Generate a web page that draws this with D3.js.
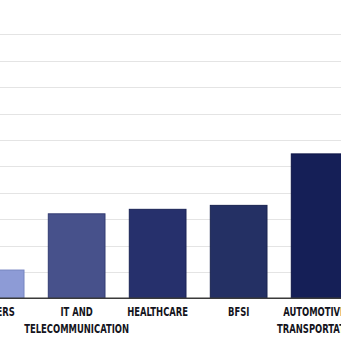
<!DOCTYPE html>
<html>
<head>
<meta charset="utf-8">
<script src="https://cdn.jsdelivr.net/npm/d3@7"></script>
<style>
  html, body { margin: 0; padding: 0; background: #fff; overflow: hidden; }
  svg { display: block; }
</style>
</head>
<body>
<svg id="chart" width="341" height="344"></svg>
<script>
const categories = ["OTHERS", "IT AND\nTELECOMMUNICATION", "HEALTHCARE", "BFSI", "AUTOMOTIVE &\nTRANSPORTATION"];
const values = [1.07, 3.2, 3.37, 3.52, 5.47];
const colors = ["#8d9bd6", "#47518b", "#26306c", "#243064", "#151f57"];
const strokes = ["#7584c0", "#333c72", "#1a2356", "#19234f", "#0d1545"];
const gridTicks = [1, 2, 3, 4, 5, 6, 7, 8, 9, 10];

const svg = d3.select("#chart");
const W = 341, H = 344;

const y = d3.scaleLinear().domain([0, 10]).range([298.3, 34.3]);
const x = d3.scaleBand().domain(categories)
  .range([-44.85, 360.15]).paddingInner(0.3).paddingOuter(0.15);

// gridlines
svg.append("g").selectAll("line").data(gridTicks).join("line")
  .attr("x1", 0).attr("x2", W)
  .attr("y1", d => Math.round(y(d)) + 0.5).attr("y2", d => Math.round(y(d)) + 0.5)
  .attr("stroke", "#e4e4e4").attr("stroke-width", 1.2);

// bars
svg.append("g").selectAll("rect").data(categories).join("rect")
  .attr("x", d => x(d))
  .attr("y", (d, i) => y(values[i]))
  .attr("width", x.bandwidth())
  .attr("height", (d, i) => y(0) - y(values[i]))
  .attr("fill", (d, i) => colors[i])
  .attr("stroke", (d, i) => strokes[i])
  .attr("stroke-width", 1);

// baseline
svg.append("line")
  .attr("x1", 0).attr("x2", W)
  .attr("y1", y(0)).attr("y2", y(0))
  .attr("stroke", "#3a3a3a").attr("stroke-width", 1.5);

// labels
const lab = svg.append("g")
  .attr("font-family", "'Liberation Sans Narrow', 'DejaVu Sans Condensed', 'Roboto', sans-serif")
  .attr("font-weight", "bold")
  .attr("font-size", 12.5)
  .attr("fill", "#141420");
categories.forEach((c, i) => {
  const cx = x(c) + x.bandwidth() / 2;
  const t = lab.append("text")
    .attr("text-anchor", "middle")
    .attr("transform", `translate(${cx},0) scale(0.75,1)`);
  c.split("\n").forEach((line, j) => {
    t.append("tspan").attr("x", 0).attr("y", 316.5 + j * 17).text(line);
  });
});
</script>
</body>
</html>
